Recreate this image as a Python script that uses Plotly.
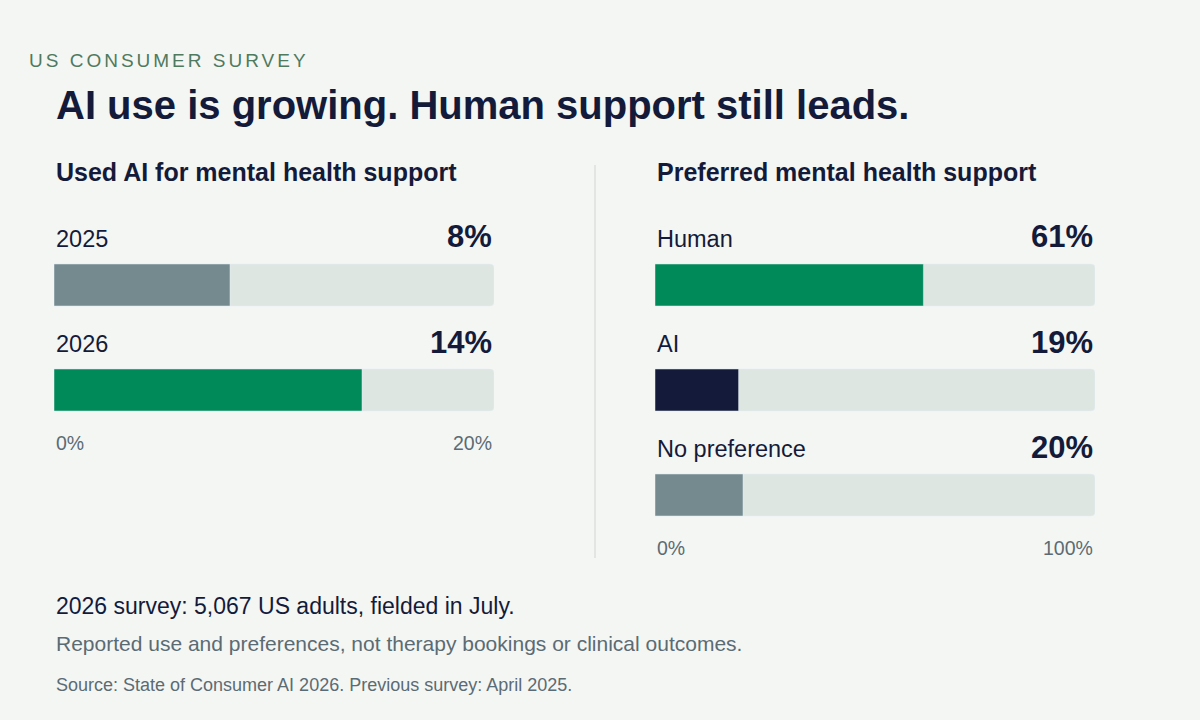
import plotly.graph_objects as go

left_cats = ["2025", "2026"]
left_vals = [8, 14]
left_colors = ["#748a8f", "#008a5a"]
left_max = 20
right_cats = ["Human", "AI", "No preference"]
right_vals = [61, 19, 20]
right_colors = ["#008a5a", "#141b3a", "#748a8f"]
right_max = 100

W, H = 1200, 720
BG = "#f4f6f3"; TRACK = "#dde6e1"; DARK = "#141b3a"; GRAY = "#5b6b73"
FONT = "Liberation Sans, Arial, sans-serif"
centers = [285, 390, 495]

fig = go.Figure()
def panel(cats, vals, cols, vmax, xa):
    ys = centers[:len(cats)]
    fig.add_trace(go.Bar(x=[vmax]*len(cats), y=ys, orientation="h", width=42,
                         marker=dict(color=TRACK, cornerradius=4), xaxis=xa, yaxis="y", hoverinfo="skip"))
    fig.add_trace(go.Bar(x=vals, y=ys, orientation="h", width=42,
                         marker=dict(color=cols, cornerradius=4), xaxis=xa, yaxis="y"))
panel(left_cats, left_vals, left_colors, left_max, "x")
panel(right_cats, right_vals, right_colors, right_max, "x2")

ann = []
def txt(x, y, t, size, color=DARK, bold=False, anchor="left"):
    s = f"<b>{t}</b>" if bold else t
    ann.append(dict(x=x/W, y=1-y/H, xref="paper", yref="paper", text=s, showarrow=False,
                    xanchor=anchor, yanchor="middle", font=dict(size=size, color=color, family=FONT)))

txt(54, 60, "US CONSUMER SURVEY", 19, "#4f7a5e")
txt(54, 105, "AI use is growing. Human support still leads.", 40, DARK, True)
txt(54, 172, "Used AI for mental health support", 25, DARK, True)
txt(655, 172, "Preferred mental health support", 25, DARK, True)

def labels(cats, vals, x0, x1, vmax):
    for i, (c, v) in enumerate(zip(cats, vals)):
        yc = centers[i]
        txt(x0, yc-46, c, 23.5)
        txt(x1, yc-48, f"{v}%", 31, DARK, True, "right")
    yl = centers[len(cats)-1] + 53
    txt(x0, yl, "0%", 19.5, GRAY)
    txt(x1, yl, f"{vmax}%", 19.5, GRAY, anchor="right")
labels(left_cats, left_vals, 54, 494, left_max)
labels(right_cats, right_vals, 655, 1095, right_max)

txt(54, 606, "2026 survey: 5,067 US adults, fielded in July.", 23, DARK)
txt(54, 643, "Reported use and preferences, not therapy bookings or clinical outcomes.", 21, GRAY)
txt(54, 685, "Source: State of Consumer AI 2026. Previous survey: April 2025.", 18, GRAY)

fig.update_layout(
    width=W, height=H, margin=dict(l=0, r=0, t=0, b=0), paper_bgcolor=BG, plot_bgcolor=BG,
    barmode="overlay", showlegend=False, annotations=ann,
    xaxis=dict(domain=[54/W, 494/W], range=[0, left_max], visible=False, fixedrange=True),
    xaxis2=dict(domain=[655/W, 1095/W], range=[0, right_max], visible=False, fixedrange=True),
    yaxis=dict(domain=[0, 1], range=[H, 0], visible=False, fixedrange=True),
    shapes=[dict(type="line", xref="paper", yref="paper", x0=595/W, x1=595/W, y0=1-165/H, y1=1-558/H,
                 line=dict(color="#dcdfdc", width=1.5))],
)
post = """
document.body.style.margin='0';
document.querySelectorAll('text').forEach(function(t){
  if(t.textContent==='US CONSUMER SURVEY'){t.style.letterSpacing='3px';}
});
"""
fig.write_html("out.html", config={"displayModeBar": False}, post_script=post)
